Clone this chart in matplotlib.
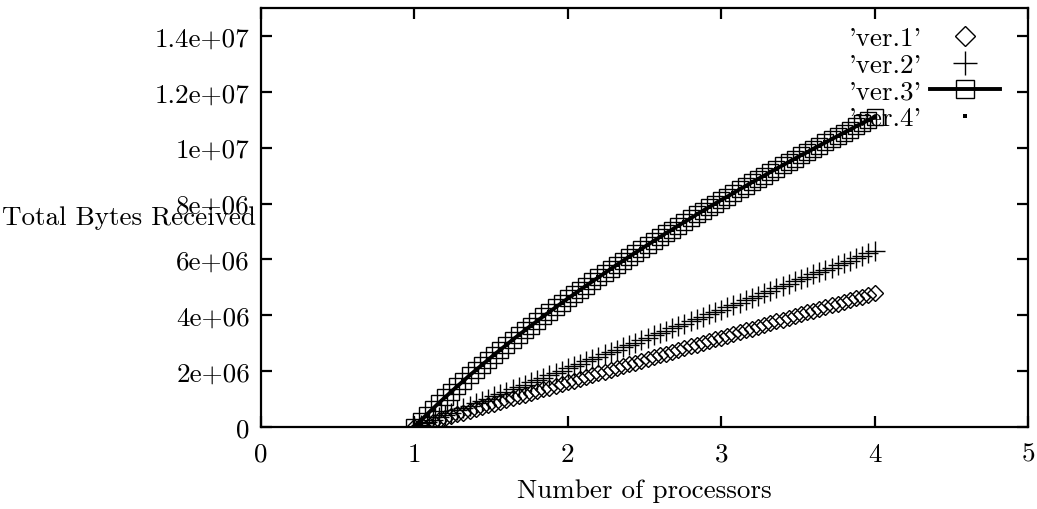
import numpy as np
import matplotlib
matplotlib.use("Agg")
import matplotlib.pyplot as plt

# Data (values in units of 1e6 bytes)
processors = np.round(np.arange(1.0, 4.0001, 0.04), 2)

ver1 = [0, 0.06, 0.13, 0.19, 0.26, 0.32, 0.38, 0.45, 0.51, 0.58, 0.64, 0.70, 0.77, 0.83,
        0.90, 0.96, 1.02, 1.09, 1.15, 1.22, 1.28, 1.34, 1.41, 1.47, 1.54, 1.60, 1.66, 1.73,
        1.79, 1.86, 1.92, 1.98, 2.05, 2.11, 2.18, 2.24, 2.30, 2.37, 2.43, 2.50, 2.56, 2.62,
        2.69, 2.75, 2.82, 2.88, 2.94, 3.01, 3.07, 3.14, 3.20, 3.26, 3.33, 3.39, 3.46, 3.52,
        3.58, 3.65, 3.71, 3.78, 3.84, 3.90, 3.97, 4.03, 4.10, 4.16, 4.22, 4.29, 4.35, 4.42,
        4.48, 4.54, 4.61, 4.67, 4.74, 4.80]

ver2 = [0, 0.08, 0.17, 0.25, 0.34, 0.42, 0.50, 0.59, 0.67, 0.76, 0.84, 0.92, 1.01, 1.09,
        1.18, 1.26, 1.34, 1.43, 1.51, 1.60, 1.68, 1.76, 1.85, 1.93, 2.02, 2.10, 2.18, 2.27,
        2.35, 2.44, 2.52, 2.60, 2.69, 2.77, 2.86, 2.94, 3.02, 3.11, 3.19, 3.28, 3.36, 3.44,
        3.53, 3.61, 3.70, 3.78, 3.86, 3.95, 4.03, 4.12, 4.20, 4.28, 4.37, 4.45, 4.54, 4.62,
        4.70, 4.79, 4.87, 4.96, 5.04, 5.12, 5.21, 5.29, 5.38, 5.46, 5.54, 5.63, 5.71, 5.80,
        5.88, 5.96, 6.05, 6.13, 6.22, 6.30]

ver3 = [0, 0.22, 0.44, 0.65, 0.86, 1.06, 1.26, 1.46, 1.65, 1.85, 2.03, 2.22, 2.40, 2.59,
        2.76, 2.94, 3.12, 3.29, 3.46, 3.63, 3.79, 3.96, 4.12, 4.28, 4.44, 4.60, 4.75, 4.91,
        5.06, 5.21, 5.36, 5.51, 5.66, 5.81, 5.95, 6.10, 6.24, 6.38, 6.52, 6.66, 6.80, 6.94,
        7.07, 7.21, 7.34, 7.47, 7.61, 7.74, 7.87, 8.00, 8.13, 8.25, 8.38, 8.51, 8.63, 8.76,
        8.88, 9.00, 9.13, 9.25, 9.37, 9.49, 9.61, 9.73, 9.84, 9.96, 10.08, 10.19, 10.31, 10.42,
        10.54, 10.65, 10.77, 10.88, 10.99, 11.10]

ver4 = list(ver3)

x_ticks = [0, 1, 2, 3, 4, 5]
y_ticks = [0, 2e6, 4e6, 6e6, 8e6, 1e7, 1.2e7, 1.4e7]
y_tick_labels = ["0", "2e+06", "4e+06", "6e+06", "8e+06", "1e+07", "1.2e+07", "1.4e+07"]

plt.rcParams['font.family'] = ['cmr10', 'DejaVu Serif']
plt.rcParams['axes.formatter.use_mathtext'] = True
FS = 19.5

fig = plt.figure(figsize=(10.37, 5.10), dpi=100)
ax = fig.add_axes([0.2517, 0.161, 0.9913 - 0.2517, 0.982 - 0.161])

scale = 1e6
y1 = np.array(ver1) * scale
y2 = np.array(ver2) * scale
y3 = np.array(ver3) * scale
y4 = np.array(ver4) * scale

mew = 1.0
ax.plot(processors, y1, linestyle='none', marker='D', ms=8.5, mfc='none', mec='black',
        mew=mew, label="'ver.1'")
ax.plot(processors, y2, linestyle='none', marker='+', ms=15, mec='black',
        mew=mew, label="'ver.2'")
ax.plot(processors, y3, linestyle='-', color='black', lw=2.8, marker='s', ms=11, mfc='none',
        mec='black', mew=mew, label="'ver.3'")
ax.plot(processors, y4, linestyle='none', marker='s', ms=2.2, mfc='black', mec='black',
        mew=0, label="'ver.4'")

ax.set_xlim(0, 5)
ax.set_ylim(0, 1.5e7)
ax.set_xticks(x_ticks)
ax.set_xticklabels([str(t) for t in x_ticks])
ax.set_yticks(y_ticks)
ax.set_yticklabels(y_tick_labels)

for s in ax.spines.values():
    s.set_linewidth(1.6)
ax.tick_params(direction='in', length=8, width=1.6, top=True, right=True,
               labelsize=FS)
ax.tick_params(axis='x', pad=11)
ax.tick_params(axis='y', pad=8)

ax.set_xlabel("Number of processors", fontsize=FS, labelpad=9)
ax.text(-0.0065, 0.5, "Total Bytes Received", transform=ax.transAxes,
        ha='right', va='center', fontsize=FS)

leg = ax.legend(loc='upper right', markerfirst=False, frameon=False, fontsize=FS,
                handlelength=2.6, handletextpad=0.3, labelspacing=0.1, numpoints=1,
                markerscale=1.15, borderaxespad=0.2, bbox_to_anchor=(0.985, 0.995))

fig.savefig("out.png", dpi=100)
